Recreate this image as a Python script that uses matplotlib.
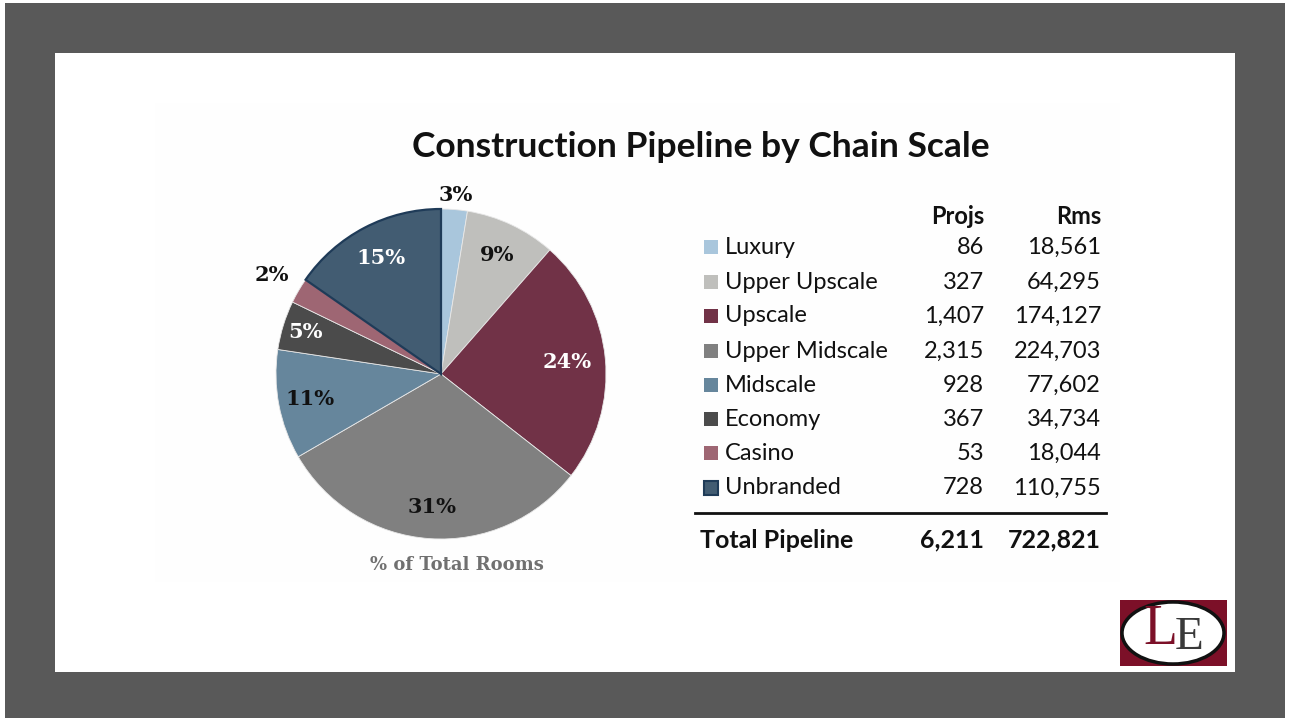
import matplotlib
matplotlib.use("Agg")
import matplotlib.pyplot as plt
from matplotlib.patches import Rectangle, Ellipse
import numpy as np

# ---- data ----
categories = ["Luxury", "Upper Upscale", "Upscale", "Upper Midscale",
              "Midscale", "Economy", "Casino", "Unbranded"]
projs = [86, 327, 1407, 2315, 928, 367, 53, 728]
rooms = [18561, 64295, 174127, 224703, 77602, 34734, 18044, 110755]
total_label = "Total Pipeline"
total_projs = 6211
total_rooms = 722821
title = "Construction Pipeline by Chain Scale"
pie_caption = "% of Total Rooms"
col_headers = ["Projs", "Rms"]

# ---- style ----
colors = ["#a9c6dc", "#bfbfbc", "#713247", "#808080",
          "#66869c", "#4b4b4b", "#9e6673", "#425c72"]
label_colors = ["#111111", "#111111", "white", "#111111",
                "#111111", "white", "#111111", "white"]
label_dist = [1.09, 0.80, 0.77, 0.81, 0.81, 0.86, 1.19, 0.79]

W, H = 1289, 721
fig = plt.figure(figsize=(W / 100, H / 100), dpi=100, facecolor="white")


def fx(x):
    return x / W


def fy(y):
    return 1 - y / H


def rect(x0, y0, x1, y1, color, z=-10, **kw):
    fig.patches.append(Rectangle((fx(x0), fy(y1)), fx(x1) - fx(x0), fy(y0) - fy(y1),
                                 transform=fig.transFigure, facecolor=color,
                                 edgecolor=kw.pop("ec", "none"), zorder=z, **kw))


# frame
rect(5, 3, 1285, 718, "#595959", z=-12)
rect(55, 53, 1235, 672, "white", z=-11)
rect(155, 103, 1120, 582, "#fefefe", z=-10)

# title
fig.text(fx(701), fy(147), title, ha="center", va="center",
         fontsize=25.5, fontweight="bold", family="Lato", color="#111111")

# pie
cx, cy, R = 441, 374, 165
ax = fig.add_axes([fx(cx - R), fy(cy + R), (2 * R) / W, (2 * R) / H])
ax.patch.set_visible(False)
wedges, _ = ax.pie(rooms, colors=colors, startangle=90, counterclock=False,
                   radius=1, wedgeprops=dict(linewidth=0.6, edgecolor="#e8e8e8"))
wedges[-1].set_edgecolor("#1f3b58")
wedges[-1].set_linewidth(1.6)
wedges[-1].set_zorder(3)
ax.set_xlim(-1, 1)
ax.set_ylim(-1, 1)
ax.set_aspect("equal")
ax.axis("off")

total = sum(rooms)
for w, v, c, d in zip(wedges, rooms, label_colors, label_dist):
    ang = np.deg2rad((w.theta1 + w.theta2) / 2)
    ax.text(d * np.cos(ang), d * np.sin(ang), f"{100 * v / total:.0f}%",
            ha="center", va="center", fontsize=15, fontweight="bold",
            family="DejaVu Serif", color=c, zorder=5, clip_on=False)

fig.text(fx(457), fy(565), pie_caption, ha="center", va="center",
         fontsize=13, fontweight="bold", family="DejaVu Serif", color="#707070")

# table
fs = 17
font = "Lato"
x_sw, x_lab, x_p, x_r = 704, 725, 984, 1101
fig.text(fx(x_p), fy(216), col_headers[0], ha="right", va="center",
         fontsize=fs, fontweight="bold", family=font, color="#111111")
fig.text(fx(x_r), fy(216), col_headers[1], ha="right", va="center",
         fontsize=fs, fontweight="bold", family=font, color="#111111")
row_y = [247, 282, 316, 351, 385, 419, 453, 488]
for name, p, r, col, y in zip(categories, projs, rooms, colors, row_y):
    sw = 14
    ec = "#1f3b58" if name == "Unbranded" else "none"
    fig.patches.append(Rectangle((fx(x_sw), fy(y + 7)), sw / W, sw / H,
                                 transform=fig.transFigure, facecolor=col,
                                 edgecolor=ec, linewidth=1.5))
    fig.text(fx(x_lab), fy(y), name, ha="left", va="center",
             fontsize=fs, family=font, color="#111111")
    fig.text(fx(x_p), fy(y), f"{p:,}", ha="right", va="center",
             fontsize=fs, family=font, color="#111111")
    fig.text(fx(x_r), fy(y), f"{r:,}", ha="right", va="center",
             fontsize=fs, family=font, color="#111111")

fig.add_artist(plt.Line2D([fx(695), fx(1106)], [fy(513), fy(513)],
                          transform=fig.transFigure, color="#111111", linewidth=2))
fig.text(fx(700), fy(540), total_label, ha="left", va="center",
         fontsize=18, fontweight="bold", family=font, color="#111111")
fig.text(fx(x_p), fy(540), f"{total_projs:,}", ha="right", va="center",
         fontsize=18, fontweight="bold", family=font, color="#111111")
fig.text(fx(x_r), fy(540), f"{total_rooms:,}", ha="right", va="center",
         fontsize=18, fontweight="bold", family=font, color="#111111")

# logo
rect(1120, 600, 1227, 666, "#7c1028", z=1)
fig.patches.append(Ellipse((fx(1173), fy(633)), 102 / W, 62 / H,
                           transform=fig.transFigure, facecolor="white",
                           edgecolor="#111111", linewidth=2.5, zorder=2))
fig.text(fx(1160), fy(630), "L", ha="center", va="center", fontsize=40,
         family="Liberation Serif", color="#7c1028", zorder=3)
fig.text(fx(1189), fy(638), "E", ha="center", va="center", fontsize=34,
         family="Liberation Serif", color="#3a3a3a", zorder=3)

fig.savefig("out.png", dpi=100, facecolor="white")
